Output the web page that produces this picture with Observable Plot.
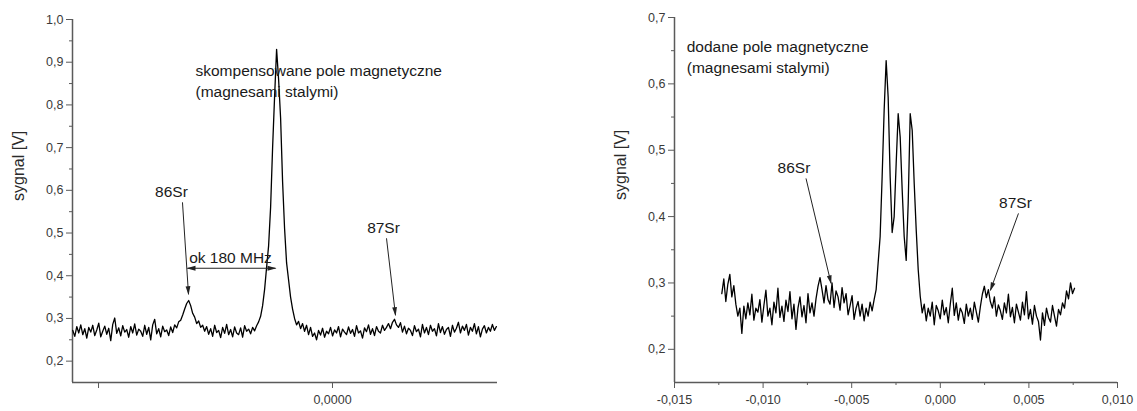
<!DOCTYPE html>
<html>
<head>
<meta charset="utf-8">
<script src="https://cdn.jsdelivr.net/npm/d3@7"></script>
<script src="https://cdn.jsdelivr.net/npm/@observablehq/plot@0.6"></script>
<style>
  body { margin: 0; background: #fff; }
  #wrap { position: relative; width: 1137px; height: 411px; font-family: "Liberation Sans", Arial, sans-serif; }
  #wrap svg { position: absolute; top: 0; }
</style>
</head>
<body>
<div id="wrap"></div>
<script>
// ---------- Scan A: compensated magnetic field ----------
const scanAStart = -0.00555;   // detuning of first sample
const scanAStep = 0.0000427;   // sample spacing
const scanASignal = [
  0.272,0.258,0.281,0.266,0.285,0.262,0.276,0.254,0.279,0.268,
  0.284,0.260,0.273,0.289,0.257,0.270,0.282,0.263,0.277,0.248,
  0.286,0.301,0.265,0.278,0.259,0.283,0.268,0.274,0.256,0.281,
  0.266,0.287,0.261,0.275,0.270,0.258,0.284,0.263,0.279,0.250,
  0.285,0.298,0.264,0.276,0.257,0.282,0.269,0.273,0.260,0.280,
  0.267,0.285,0.278,0.292,0.296,0.308,0.322,0.335,0.342,0.330,
  0.312,0.303,0.288,0.294,0.279,0.284,0.270,0.281,0.263,0.276,
  0.258,0.284,0.267,0.272,0.255,0.279,0.265,0.286,0.262,0.274,
  0.257,0.280,0.266,0.262,0.278,0.256,0.283,0.270,0.275,0.264,
  0.279,0.271,0.283,0.292,0.305,0.330,0.368,0.420,0.470,0.560,
  0.700,0.820,0.930,0.860,0.770,0.620,0.510,0.430,0.390,0.350,
  0.322,0.300,0.285,0.293,0.276,0.288,0.270,0.284,0.262,0.279,
  0.258,0.266,0.250,0.272,0.261,0.277,0.256,0.270,0.264,0.279,
  0.259,0.273,0.266,0.281,0.257,0.275,0.268,0.262,0.280,0.265,
  0.274,0.258,0.283,0.266,0.271,0.254,0.278,0.269,0.285,0.263,
  0.276,0.260,0.281,0.270,0.266,0.284,0.272,0.279,0.288,0.276,
  0.291,0.298,0.285,0.279,0.290,0.268,0.282,0.264,0.277,0.272,
  0.260,0.283,0.269,0.275,0.257,0.286,0.266,0.279,0.262,0.284,
  0.270,0.276,0.259,0.288,0.267,0.281,0.263,0.274,0.279,0.258,
  0.284,0.268,0.277,0.291,0.266,0.282,0.272,0.286,0.261,0.279,
  0.270,0.288,0.264,0.281,0.257,0.275,0.283,0.266,0.279,0.270,
  0.286,0.272,0.281
];

// ---------- Scan B: added magnetic field (permanent magnets) ----------
const scanBStart = -0.01233;
const scanBStep = 0.0001131;
const scanBSignal = [
  0.284,0.306,0.272,0.298,0.313,0.279,0.296,0.268,0.250,0.262,
  0.224,0.265,0.246,0.270,0.252,0.283,0.244,0.262,0.256,0.275,
  0.241,0.266,0.289,0.250,0.262,0.237,0.271,0.255,0.292,0.248,
  0.265,0.242,0.274,0.257,0.287,0.246,0.268,0.230,0.262,0.279,
  0.249,0.266,0.240,0.284,0.255,0.270,0.250,0.276,0.295,0.308,
  0.290,0.270,0.296,0.275,0.268,0.300,0.263,0.288,0.279,0.259,
  0.293,0.270,0.284,0.252,0.266,0.281,0.245,0.262,0.272,0.250,
  0.268,0.243,0.262,0.250,0.271,0.258,0.275,0.290,0.330,0.370,
  0.460,0.560,0.635,0.580,0.460,0.376,0.400,0.480,0.555,0.520,
  0.440,0.370,0.334,0.420,0.555,0.530,0.450,0.380,0.320,0.280,
  0.255,0.268,0.243,0.262,0.250,0.271,0.237,0.266,0.258,0.246,
  0.274,0.252,0.263,0.240,0.268,0.292,0.251,0.270,0.244,0.262,
  0.255,0.239,0.268,0.250,0.262,0.245,0.271,0.256,0.241,0.264,
  0.283,0.295,0.278,0.290,0.272,0.262,0.279,0.250,0.267,0.258,
  0.245,0.270,0.255,0.283,0.249,0.263,0.240,0.268,0.256,0.244,
  0.271,0.252,0.287,0.246,0.260,0.238,0.266,0.250,0.242,0.214,
  0.255,0.236,0.262,0.248,0.241,0.266,0.250,0.235,0.260,0.252,
  0.270,0.262,0.288,0.276,0.300,0.284,0.292
];

// ---------- Axes ----------
const xDomainA = [-0.005556, 0.003526];
const yDomainA = [0.15, 1.0];
const xTicksA = [0];
const xBlankTicksA = [-0.005];
const yTicksA = [0.2, 0.3, 0.4, 0.5, 0.6, 0.7, 0.8, 0.9, 1.0];
const yMinorA = [0.25, 0.35, 0.45, 0.55, 0.65, 0.75, 0.85, 0.95];

const xDomainB = [-0.015, 0.010];
const yDomainB = [0.15, 0.7];
const xTicksB = [-0.015, -0.010, -0.005, 0.000, 0.005, 0.010];
const xMinorB = [-0.0125, -0.0075, -0.0025, 0.0025, 0.0075];
const yTicksB = [0.2, 0.3, 0.4, 0.5, 0.6, 0.7];
const yMinorB = [0.25, 0.35, 0.45, 0.55, 0.65];

const yLabel = "sygnal [V]";

// ---------- Annotations ----------
const titleA = "skompensowane pole magnetyczne\n(magnesami stalymi)";
const titleAPos = [-0.002928, 0.8585];
const labelsA = ["86Sr", "87Sr", "ok 180 MHz"];
const labelsAX = [-0.003441, 0.001090, -0.002180];
const labelsAY = [0.5953, 0.5111, 0.4409];
const arrowsA = [ // [x1, y1, x2, y2]
  [-0.003206, 0.5719, -0.003077, 0.3567],
  [0.001154, 0.4877, 0.001346, 0.3076]
];
const spanA = [-0.003099, 0.4175, -0.001218, 0.4175];

const titleB = "dodane pole magnetyczne\n(magnesami stalymi)";
const titleBPos = [-0.01431, 0.6428];
const labelsB = ["86Sr", "87Sr"];
const labelsBX = [-0.008258, 0.004242];
const labelsBY = [0.4726, 0.4199];
const arrowsB = [
  [-0.007579, 0.4575, -0.006165, 0.2994],
  [0.004412, 0.4048, 0.002828, 0.2889]
];

// ---------- helpers ----------
const locale = d3.formatLocale({decimal: ",", thousands: " ", grouping: [3], currency: ["", ""], minus: "-"});
const fmt1 = locale.format(".1f");
const fmt3 = locale.format(".3f");
const fmt4 = locale.format(".4f");

const seriesFrom = (start, step, values) => values.map((v, i) => ({x: start + i * step, y: v}));

function headMarker(reverse) {
  return (color) => d3.create("svg:marker")
    .attr("viewBox", "-9 -4 10 8")
    .attr("markerWidth", 10)
    .attr("markerHeight", 8)
    .attr("orient", reverse ? "auto-start-reverse" : "auto")
    .attr("fill", color)
    .attr("stroke", "none")
    .call((m) => m.append("path").attr("d", "M-8,-2.4L1,0L-8,2.4Z"))
    .node();
}

const axisStroke = "#5a5a5a";
const tickText = "#3a3a3a";
const annText = "#1a1a1a";
const annSize = 15.5;
const fontFamily = "'Liberation Sans', Arial, sans-serif";

function panel({width, marginLeft, marginRight, marginTop, xDomain, yDomain, data,
                xMajor, xMajorFmt, xMinor, yMajor, yMinor, title, titlePos,
                labels, labelsX, labelsY, arrows, span}) {
  const marks = [
    Plot.ruleX([xDomain[0]], {stroke: axisStroke, strokeWidth: 1.5}),
    Plot.ruleY([yDomain[0]], {stroke: axisStroke, strokeWidth: 1.5}),
    Plot.axisY(yMajor, {tickSize: 6, tickPadding: 3, tickFormat: fmt1, fontSize: 12.5,
      stroke: axisStroke, fill: tickText, label: null}),
    Plot.axisY(yMinor, {tickSize: 3, stroke: axisStroke, fill: "none", label: null}),
    Plot.axisX(xMajor, {tickSize: 6, tickPadding: 7, tickFormat: xMajorFmt, fontSize: 12.5,
      stroke: axisStroke, fill: tickText, label: null}),
    Plot.axisX(xMinor, {tickSize: xMinor === xBlankTicksA ? 6 : 3, stroke: axisStroke, fill: "none", label: null}),
    Plot.text([yLabel], {text: (d) => d, frameAnchor: "left", dx: -54, rotate: -90,
      fontSize: 16, fill: "#2a2a2a"}),
    Plot.line(data, {x: "x", y: "y", stroke: "#000", strokeWidth: 1.3}),
    Plot.text([title], {text: (d) => d, x: titlePos[0], y: titlePos[1], textAnchor: "start",
      lineAnchor: "middle", lineHeight: 1.36, fontSize: annSize, fill: annText}),
    Plot.text(labels, {text: (d) => d, x: (d, i) => labelsX[i], y: (d, i) => labelsY[i],
      textAnchor: "middle", fontSize: annSize, fill: annText}),
    Plot.link(arrows, {x1: (d) => d[0], y1: (d) => d[1], x2: (d) => d[2], y2: (d) => d[3],
      stroke: "#222", strokeWidth: 1, markerEnd: headMarker(false)})
  ];
  if (span) {
    marks.push(Plot.link([span], {x1: (d) => d[0], y1: (d) => d[1], x2: (d) => d[2], y2: (d) => d[3],
      stroke: "#222", strokeWidth: 1, markerStart: headMarker(true), markerEnd: headMarker(false)}));
  }
  return Plot.plot({
    width, height: 411, marginLeft, marginRight, marginTop, marginBottom: 29,
    x: {domain: xDomain},
    y: {domain: yDomain},
    style: {fontFamily, background: "transparent", overflow: "visible"},
    marks
  });
}

const left = panel({
  width: 560, marginLeft: 72, marginRight: 63, marginTop: 19,
  xDomain: xDomainA, yDomain: yDomainA,
  data: seriesFrom(scanAStart, scanAStep, scanASignal),
  xMajor: xTicksA, xMajorFmt: fmt4, xMinor: xBlankTicksA,
  yMajor: yTicksA, yMinor: yMinorA,
  title: titleA, titlePos: titleAPos,
  labels: labelsA, labelsX: labelsAX, labelsY: labelsAY,
  arrows: arrowsA, span: spanA
});
left.style.left = "0px";

const right = panel({
  width: 567, marginLeft: 104, marginRight: 20, marginTop: 17,
  xDomain: xDomainB, yDomain: yDomainB,
  data: seriesFrom(scanBStart, scanBStep, scanBSignal),
  xMajor: xTicksB, xMajorFmt: fmt3, xMinor: xMinorB,
  yMajor: yTicksB, yMinor: yMinorB,
  title: titleB, titlePos: titleBPos,
  labels: labelsB, labelsX: labelsBX, labelsY: labelsBY,
  arrows: arrowsB, span: null
});
right.style.left = "570px";

const wrap = document.getElementById("wrap");
wrap.append(left, right);
</script>
</body>
</html>
